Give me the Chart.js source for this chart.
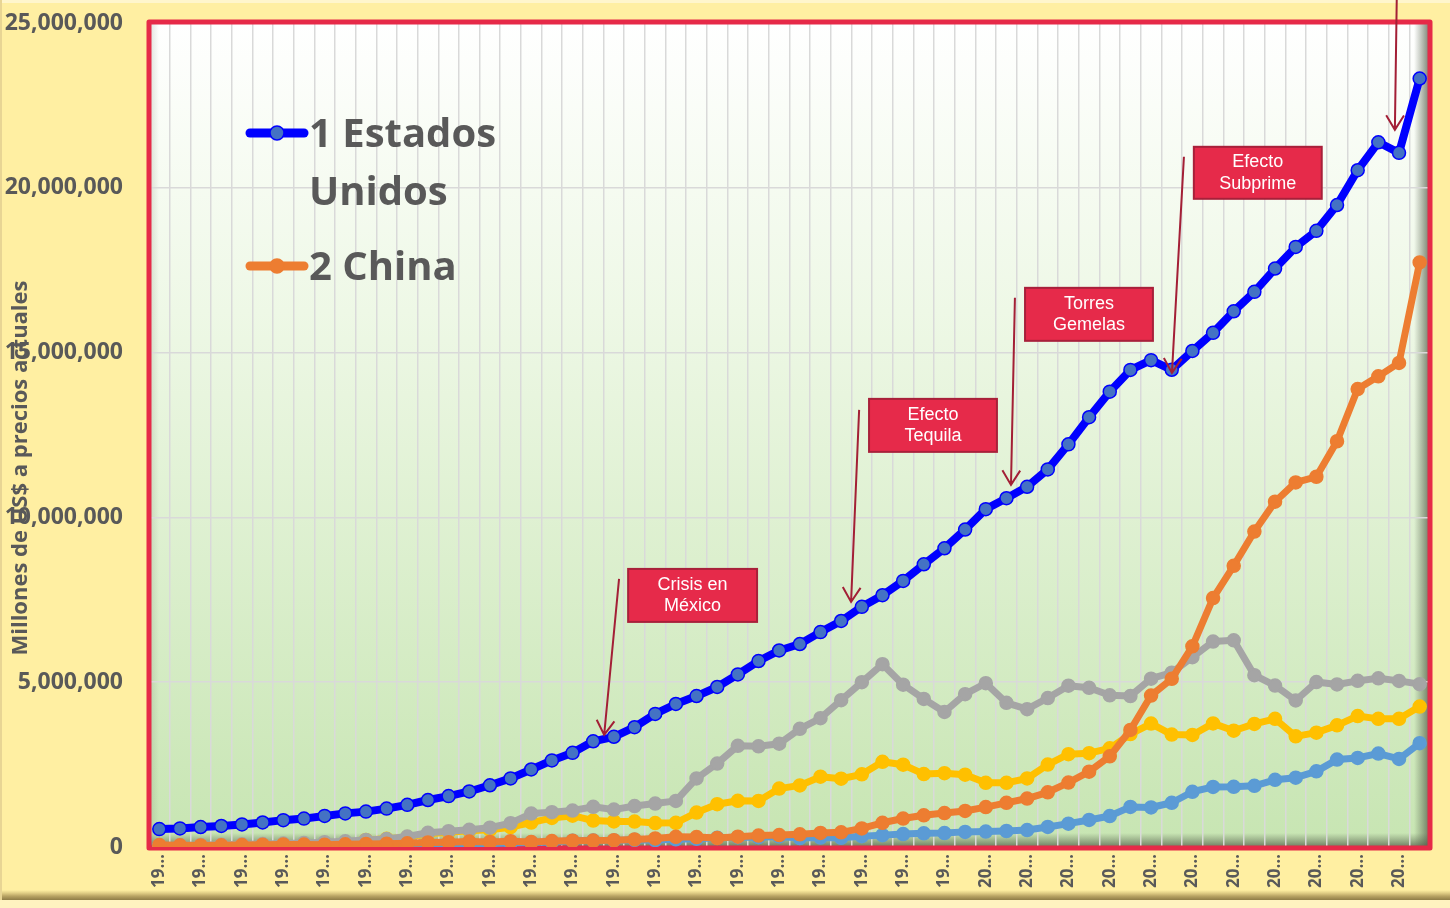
<!DOCTYPE html>
<html lang="es">
<head>
<meta charset="utf-8">
<title>PIB a precios actuales</title>
<script src="https://cdn.jsdelivr.net/npm/chart.js@4.4.1/dist/chart.umd.min.js"></script>
<style>
  html, body { margin: 0; padding: 0; background: #FFEFA2; }
  #wrap { width: 1450px; height: 908px; }
</style>
</head>
<body>
<div id="wrap"><canvas id="pibChart" width="1450" height="908"></canvas></div>
<script>
// Años (categorías)
const years = [1960, 1961, 1962, 1963, 1964, 1965, 1966, 1967, 1968, 1969,
  1970, 1971, 1972, 1973, 1974, 1975, 1976, 1977, 1978, 1979,
  1980, 1981, 1982, 1983, 1984, 1985, 1986, 1987, 1988, 1989,
  1990, 1991, 1992, 1993, 1994, 1995, 1996, 1997, 1998, 1999,
  2000, 2001, 2002, 2003, 2004, 2005, 2006, 2007, 2008, 2009,
  2010, 2011, 2012, 2013, 2014, 2015, 2016, 2017, 2018, 2019,
  2020, 2021];

// PIB en millones de US$
const estadosUnidos = [543300, 563300, 605100, 638600, 685800, 743700, 815000, 861700, 942500, 1019900,
  1073303, 1164850, 1279110, 1425376, 1545243, 1684904, 1873412, 2081826, 2351599, 2627334,
  2857307, 3207042, 3343789, 3634038, 4037613, 4338979, 4579631, 4855215, 5236438, 5641580,
  5963144, 6158129, 6520327, 6858559, 7287236, 7639749, 8073122, 8577552, 9062817, 9631172,
  10250952, 10581929, 10929108, 11456450, 12217196, 13039197, 13815583, 14474228, 14769862, 14478067,
  15048971, 15599731, 16253970, 16843196, 17550687, 18206023, 18695106, 19477337, 20533058, 21380976,
  21060474, 23315081];

const china = [59716, 50057, 47209, 50707, 59708, 70436, 76720, 72882, 70847, 79706,
  92603, 99801, 113688, 138544, 144182, 163432, 153940, 174938, 149541, 178281,
  191149, 195866, 205090, 230687, 259947, 309488, 300758, 272973, 312354, 347768,
  360858, 383373, 426916, 444731, 564325, 734485, 863747, 961604, 1029043, 1093997,
  1211347, 1339396, 1470550, 1660288, 1955347, 2285966, 2752132, 3550342, 4594307, 5101702,
  6087165, 7551500, 8532231, 9570406, 10475683, 11061553, 11233277, 12310409, 13894818, 14279937,
  14687674, 17734063];

const japon = [44307, 53509, 60723, 69498, 81749, 90950, 105628, 123782, 146601, 172204,
  212609, 240152, 318031, 432083, 479626, 521542, 586162, 721412, 1013612, 1055013,
  1105386, 1218989, 1134518, 1243323, 1318381, 1398893, 2078953, 2532808, 3071683, 3054914,
  3132818, 3584420, 3908809, 4454143, 4998798, 5545563, 4923392, 4492449, 4098363, 4635982,
  4968359, 4374710, 4182846, 4519562, 4893116, 4831467, 4601663, 4579751, 5106679, 5289493,
  5759072, 6233147, 6272363, 5212328, 4896994, 4444931, 5003678, 4930837, 5040881, 5117994,
  5040108, 4940878];

const alemania = [null, null, null, null, null, null, null, null, null, null,
  215838, 249985, 299802, 398374, 445303, 490637, 519754, 600498, 740470, 881345,
  950291, 800472, 776576, 770684, 725111, 732535, 1046139, 1298047, 1401134, 1398967,
  1771671, 1868945, 2131572, 2071324, 2205074, 2585792, 2497245, 2211990, 2238991, 2194204,
  1947982, 1945791, 2078484, 2501640, 2814354, 2846864, 2994703, 3425578, 3745264, 3411261,
  3399668, 3749315, 3527345, 3733805, 3889093, 3357586, 3469853, 3690849, 3974443, 3888226,
  3887727, 4259935];

const india = [37030, 39232, 42161, 48421, 56480, 59554, 45865, 50135, 53085, 58448,
  62422, 67351, 71463, 85515, 99526, 98473, 102717, 121487, 137300, 152992,
  186325, 193491, 200715, 218262, 212158, 232512, 248986, 279034, 296589, 296042,
  320979, 270105, 288208, 279296, 327276, 360282, 392897, 415868, 421351, 458820,
  468395, 485441, 514938, 607699, 709149, 820382, 940260, 1216736, 1198896, 1341887,
  1675615, 1823050, 1827638, 1856722, 2039127, 2103588, 2294797, 2651473, 2702930, 2835606,
  2671595, 3150307];

// Valores del eje Y
const yTicks = [0, 5000000, 10000000, 15000000, 20000000, 25000000];

// Notas: texto, caja (índice de año inicio/fin, valor arriba/abajo) y flecha (desde -> hasta)
const notas = [
  { texto: ['Crisis en', 'México'], caja: [22.69, 28.93, 8437000, 6829000], flecha: [22.25, 8134000, 21.53, 3399000] },
  { texto: ['Efecto', 'Tequila'], caja: [34.35, 40.54, 13596000, 11988000], flecha: [33.87, 13263000, 33.48, 7435000] },
  { texto: ['Torres', 'Gemelas'], caja: [41.90, 48.09, 16965000, 15357000], flecha: [41.41, 16661000, 41.22, 10986000] },
  { texto: ['Efecto', 'Subprime'], caja: [50.07, 56.26, 21244000, 19666000], flecha: [49.59, 20941000, 49.01, 14385000] },
  { texto: null, caja: null, flecha: [59.89, 25700000, 59.80, 21760000] }
];

const GRIS_TEXTO = '#595959';

function serie(label, data, color, fill, width) {
  return {
    label: label,
    data: data,
    borderColor: color,
    backgroundColor: fill,
    borderWidth: width,
    borderJoinStyle: 'round',
    borderCapStyle: 'round',
    pointRadius: 6.5,
    pointBackgroundColor: fill,
    pointBorderColor: color,
    pointBorderWidth: 1.5,
    tension: 0
  };
}

// Flecha con punta abierta
function dibujaFlecha(ctx, x1, y1, x2, y2) {
  const ang = Math.atan2(y2 - y1, x2 - x1);
  const largo = 17;
  const abre = 0.55;
  ctx.beginPath();
  ctx.moveTo(x1, y1);
  ctx.lineTo(x2, y2);
  ctx.moveTo(x2 - largo * Math.cos(ang - abre), y2 - largo * Math.sin(ang - abre));
  ctx.lineTo(x2, y2);
  ctx.lineTo(x2 - largo * Math.cos(ang + abre), y2 - largo * Math.sin(ang + abre));
  ctx.stroke();
}

const decoracion = {
  id: 'decoracion',
  beforeDraw(chart) {
    const { ctx, width, height, chartArea: a } = chart;
    ctx.save();
    // Fondo amarillo con bisel
    ctx.fillStyle = '#FFEFA2';
    ctx.fillRect(0, 0, width, height);
    ctx.fillStyle = '#FFF6CC';
    ctx.fillRect(0, 0, width, 3);
    let g = ctx.createLinearGradient(0, 890, 0, 900);
    g.addColorStop(0, 'rgba(200,180,110,0)');
    g.addColorStop(0.6, '#B9A464');
    g.addColorStop(1, '#8F7D47');
    ctx.fillStyle = g;
    ctx.fillRect(0, 890, width, 10);
    ctx.fillStyle = '#FFF3C0';
    ctx.fillRect(0, 900, width, height - 900);
    ctx.fillStyle = '#E8D594';
    ctx.fillRect(0, 0, 2, 900);

    // Área del gráfico: degradado blanco a verde
    g = ctx.createLinearGradient(0, a.top, 0, a.bottom);
    g.addColorStop(0, '#FFFFFF');
    g.addColorStop(0.35, '#EEF8E6');
    g.addColorStop(1, '#C7E5B2');
    ctx.fillStyle = g;
    ctx.fillRect(a.left, a.top, a.right - a.left, a.bottom - a.top);

    // Sombras internas
    g = ctx.createLinearGradient(a.right - 16, 0, a.right, 0);
    g.addColorStop(0, 'rgba(90,100,80,0)');
    g.addColorStop(1, 'rgba(80,90,70,0.8)');
    ctx.fillStyle = g;
    ctx.fillRect(a.right - 16, a.top, 16, a.bottom - a.top);
    g = ctx.createLinearGradient(0, a.bottom - 14, 0, a.bottom);
    g.addColorStop(0, 'rgba(90,100,80,0)');
    g.addColorStop(1, 'rgba(80,90,70,0.75)');
    ctx.fillStyle = g;
    ctx.fillRect(a.left, a.bottom - 14, a.right - a.left, 14);
    g = ctx.createLinearGradient(a.left, 0, a.left + 10, 0);
    g.addColorStop(0, 'rgba(120,130,110,0.25)');
    g.addColorStop(1, 'rgba(120,130,110,0)');
    ctx.fillStyle = g;
    ctx.fillRect(a.left, a.top, 10, a.bottom - a.top);
    ctx.restore();
  },
  beforeDatasetsDraw(chart) {
    const { ctx, chartArea: a } = chart;
    ctx.save();
    ctx.strokeStyle = '#E62A48';
    ctx.lineWidth = 5;
    ctx.lineJoin = 'round';
    ctx.strokeRect(a.left, a.top - 1, a.right - a.left, a.bottom - a.top + 2);
    ctx.restore();
  },
  afterDraw(chart) {
    const { ctx, chartArea: a } = chart;
    const x = chart.scales.x, y = chart.scales.y;
    ctx.save();

    // Notas con flechas
    notas.forEach(n => {
      if (n.caja) {
        const l = x.getPixelForValue(n.caja[0]), r = x.getPixelForValue(n.caja[1]);
        const t = y.getPixelForValue(n.caja[2]), b = y.getPixelForValue(n.caja[3]);
        ctx.fillStyle = '#E62A4A';
        ctx.fillRect(l, t, r - l, b - t);
        ctx.strokeStyle = '#A8203A';
        ctx.lineWidth = 2;
        ctx.strokeRect(l, t, r - l, b - t);
        ctx.fillStyle = '#FFFFFF';
        ctx.font = '18px "Liberation Sans", Arial, sans-serif';
        ctx.textAlign = 'center';
        ctx.textBaseline = 'middle';
        const cx = (l + r) / 2, cy = (t + b) / 2;
        ctx.fillText(n.texto[0], cx, cy - 10.5);
        ctx.fillText(n.texto[1], cx, cy + 11);
      }
      ctx.strokeStyle = '#A31F36';
      ctx.lineWidth = 2;
      dibujaFlecha(ctx,
        x.getPixelForValue(n.flecha[0]), y.getPixelForValue(n.flecha[1]),
        x.getPixelForValue(n.flecha[2]), y.getPixelForValue(n.flecha[3]));
    });

    // Leyenda (solo los dos primeros países)
    const items = [
      { ds: chart.data.datasets[0], lineas: ['1 Estados', 'Unidos'], y: a.top + 110 },
      { ds: chart.data.datasets[1], lineas: ['2 China'], y: a.top + 243 }
    ];
    items.forEach(it => {
      const lx = a.left + 99;
      ctx.strokeStyle = it.ds.borderColor;
      ctx.lineWidth = 9;
      ctx.lineCap = 'round';
      ctx.beginPath();
      ctx.moveTo(lx + 2, it.y);
      ctx.lineTo(lx + 56, it.y);
      ctx.stroke();
      ctx.beginPath();
      ctx.arc(lx + 29, it.y, 7, 0, Math.PI * 2);
      ctx.fillStyle = it.ds.pointBackgroundColor;
      ctx.fill();
      ctx.lineWidth = 1.5;
      ctx.strokeStyle = it.ds.pointBorderColor;
      ctx.stroke();
      ctx.fillStyle = GRIS_TEXTO;
      ctx.font = 'bold 40px "Open Sans", sans-serif';
      ctx.textAlign = 'left';
      ctx.textBaseline = 'alphabetic';
      it.lineas.forEach((ln, i) => ctx.fillText(ln, lx + 61, it.y + 14 + i * 58));
    });

    // Título del eje Y
    ctx.translate(21, 468);
    ctx.rotate(-Math.PI / 2);
    ctx.fillStyle = GRIS_TEXTO;
    ctx.font = 'bold 22px "Open Sans", sans-serif';
    ctx.textAlign = 'center';
    ctx.textBaseline = 'middle';
    ctx.fillText('Millones de US$ a precios actuales', 0, 0);
    ctx.restore();
  }
};

const ctx = document.getElementById('pibChart').getContext('2d');
new Chart(ctx, {
  type: 'line',
  data: {
    labels: years,
    datasets: [
      serie('1 Estados Unidos', estadosUnidos, '#0000FF', '#4472C4', 8),
      serie('2 China', china, '#ED7D31', '#ED7D31', 7),
      serie('3 Japón', japon, '#A5A5A5', '#A5A5A5', 7),
      serie('4 Alemania', alemania, '#FFC000', '#FFC000', 7),
      serie('5 India', india, '#5B9BD5', '#5B9BD5', 7)
    ]
  },
  options: {
    responsive: false,
    animation: false,
    layout: { padding: { top: 23, right: 20, left: 0, bottom: 0 } },
    plugins: {
      legend: { display: false },
      tooltip: { enabled: false }
    },
    scales: {
      x: {
        offset: true,
        afterFit: s => { s.height = 61; },
        grid: { offset: true, color: '#D9D9D9', lineWidth: 1.5, drawTicks: false },
        border: { display: false },
        ticks: {
          autoSkip: false,
          maxRotation: 90,
          minRotation: 90,
          padding: 7,
          color: GRIS_TEXTO,
          font: { family: '"Open Sans", sans-serif', weight: 'bold', size: 17 },
          callback: (v, i) => i % 2 === 0 ? String(years[i]).slice(0, 2) + '…' : ''
        }
      },
      y: {
        min: yTicks[0],
        max: yTicks[yTicks.length - 1],
        afterFit: s => { s.width = 149; s.paddingTop = 0; s.paddingBottom = 0; },
        afterBuildTicks: s => { s.ticks = yTicks.map(v => ({ value: v })); },
        grid: { color: '#D9D9D9', lineWidth: 1.5, drawTicks: false },
        border: { display: false },
        ticks: {
          padding: 26,
          color: GRIS_TEXTO,
          font: { family: '"Open Sans", sans-serif', weight: 'bold', size: 23 },
          callback: v => v.toLocaleString('en-US')
        }
      }
    }
  },
  plugins: [decoracion]
});
</script>
</body>
</html>
